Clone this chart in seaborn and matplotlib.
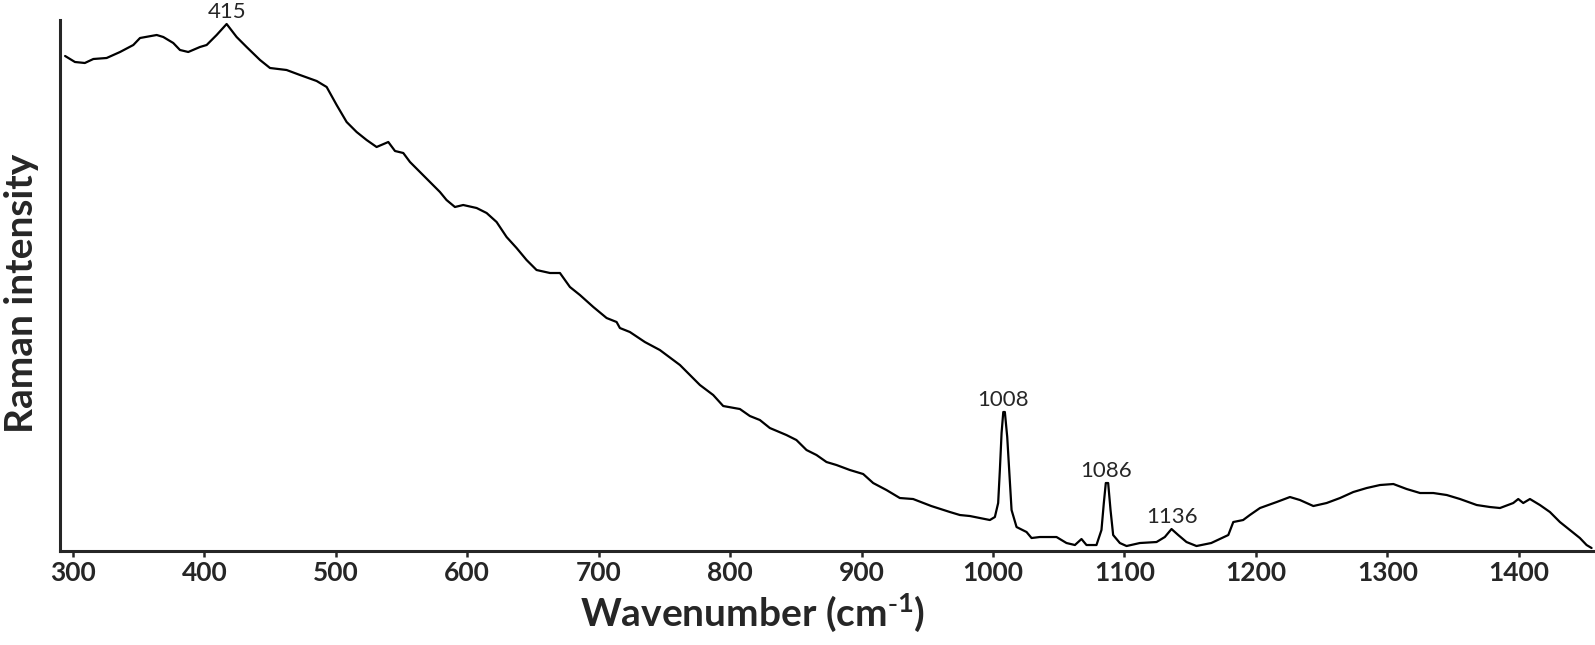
import numpy as np
import pandas as pd
import seaborn as sns
import matplotlib.pyplot as plt

# Raman spectrum (intensity in arbitrary units)
wavenumber = [294, 301.5, 309, 315.5, 325.6, 335.8, 345.9, 351, 363.7, 368.7,
              376.3, 381.4, 387.7, 396.6, 401.7, 409.3, 416.9, 424.5, 432.1, 442.3,
              449.9, 462.5, 472.7, 485.4, 493, 500.6, 508.2, 515.8, 523.4, 531,
              539.9, 545, 551.3, 556.4, 564, 571.6, 579.2, 584.2, 590.6, 596.9,
              607.1, 614.7, 622.3, 629.9, 637.5, 645.1, 652.7, 662.9, 670.5, 678.1,
              685.7, 695.9, 706, 713.6, 716.1, 723.7, 735.1, 746.5, 761.8, 777,
              787.1, 794.7, 807.4, 815, 822.6, 830.2, 842.8, 850.4, 858.1, 865.7,
              873.3, 880.9, 891.1, 901.2, 908.8, 918.9, 929.1, 939.2, 953, 967.2,
              974.8, 982.4, 990, 997.6, 1001.4, 1003.9, 1005.2, 1006.5, 1007.8, 1009,
              1010.8, 1012.3, 1014.1, 1017.9, 1025.5, 1029.3, 1035.6, 1048.3, 1055.9, 1062.3,
              1067.3, 1071.1, 1078.7, 1082.5, 1084.3, 1085.8, 1087.6, 1089.4, 1091.4, 1096.5,
              1101.6, 1111.7, 1124.4, 1130.7, 1135.8, 1140.9, 1147.2, 1154.8, 1166, 1179,
              1182.8, 1190.3, 1195.4, 1203.1, 1215.8, 1225.9, 1233.5, 1243.7, 1253.8, 1264,
              1274.1, 1284.3, 1294.4, 1304.6, 1314.7, 1324.9, 1335, 1345.2, 1355.3, 1368,
              1378.1, 1385.7, 1395.8, 1399.6, 1403.4, 1408.5, 1416.1, 1423.7, 1431.3, 1438.9,
              1446.5, 1451.6, 1455.4]
intensity = [495, 489, 488, 492, 493, 499, 506, 513, 516, 514,
             508, 501, 499, 504, 506, 516, 527, 514, 504, 491,
             483, 481, 476, 470, 464, 446, 429, 419, 411, 404,
             409, 400, 398, 389, 379, 369, 359, 351, 344, 346,
             343, 338, 329, 314, 303, 291, 281, 278, 278, 264,
             256, 244, 233, 229, 223, 219, 209, 201, 186, 166,
             156, 145, 142, 135, 131, 123, 116, 111, 101, 96,
             89, 86, 81, 77, 68, 61, 53, 52, 45, 39,
             36, 35, 33, 31, 34, 48, 81, 118, 139, 139,
             114, 81, 41, 24, 19, 13, 14, 14, 8, 6,
             12, 6, 6, 21, 48, 68, 68, 41, 16, 8,
             5, 8, 9, 14, 22, 16, 9, 5, 8, 16,
             29, 31, 36, 43, 49, 54, 51, 45, 48, 53,
             59, 63, 66, 67, 62, 58, 58, 56, 52, 46,
             44, 43, 48, 52, 48, 52, 46, 39, 29, 21,
             13, 6, 3]

peak_labels = [415, 1008, 1086, 1136]
x_ticks = [300, 400, 500, 600, 700, 800, 900, 1000, 1100, 1200, 1300, 1400]

df = pd.DataFrame({'wavenumber': wavenumber, 'intensity': intensity})

sns.set_style('ticks')
plt.rcParams['font.family'] = ['Lato', 'DejaVu Sans']
plt.rcParams['mathtext.default'] = 'regular'

fig = plt.figure(figsize=(15.95, 6.45), dpi=100)
ax = fig.add_axes([0.0376, 0.1457, 0.961, 0.8233])

sns.lineplot(data=df, x='wavenumber', y='intensity', ax=ax,
             color='black', linewidth=1.6, sort=False)

# peak labels sit just above the local maximum
for p in peak_labels:
    near = df[(df['wavenumber'] > p - 6) & (df['wavenumber'] < p + 6)]
    top = near.loc[near['intensity'].idxmax()]
    ax.annotate(str(p), xy=(top['wavenumber'], top['intensity']),
                xytext=(0, 4.5), textcoords='offset points',
                ha='center', va='baseline', fontsize=16, annotation_clip=False)

ax.set_xlim(290.1, 1456.3)
ax.set_ylim(0, 531)
ax.set_xticks(x_ticks)
ax.set_yticks([])
ax.tick_params(axis='x', direction='out', length=4, width=1.8,
               labelsize=19, pad=3)
for lbl in ax.get_xticklabels():
    lbl.set_fontweight('bold')

sns.despine(ax=ax)
for side in ['left', 'bottom']:
    ax.spines[side].set_linewidth(2.2)

ax.set_xlabel(r'Wavenumber (cm$^{\text{-}1}$)', fontsize=28, fontweight='bold')
ax.set_ylabel('Raman intensity', fontsize=28, fontweight='bold')
ax.xaxis.set_label_coords(0.452, -0.075)
ax.yaxis.set_label_coords(-0.0135, 0.486)

fig.savefig('out.png', dpi=100)
